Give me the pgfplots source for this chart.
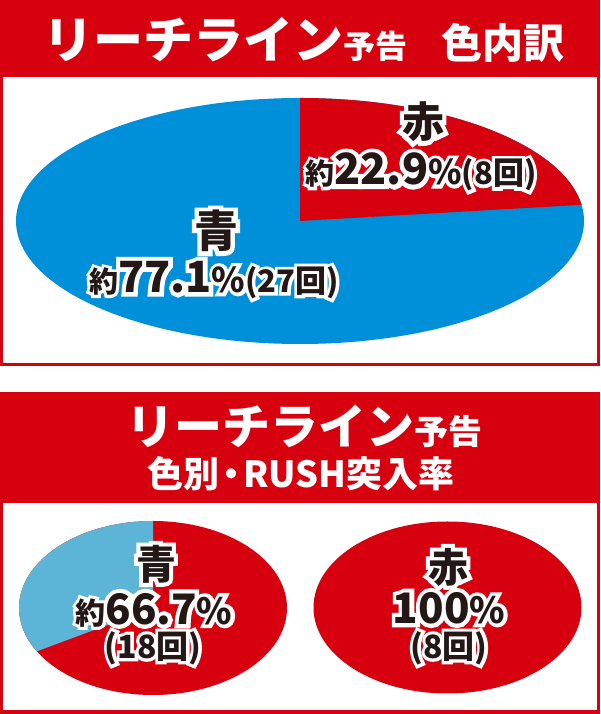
\documentclass[border=0pt]{standalone}
\usepackage{pgfplots}
\pgfplotsset{compat=1.18}
\usepackage{fontspec}
\newfontfamily\jp{Noto Sans CJK JP Black}
\newfontfamily\jpout{Noto Sans CJK JP Black}[FakeBold=20]

\definecolor{jred}{HTML}{D7000F}
\definecolor{jblue}{HTML}{0090D9}
\definecolor{lblue}{HTML}{5CB4D6}
\definecolor{ink}{HTML}{231815}

% shares (percent)
\def\redshare{22.9}   % top: red 8 of 35
\def\blueshare{77.1}  % top: blue 27 of 35
\def\blueRush{66.7}   % bottom left: blue -> RUSH 18 times
\def\redRush{100}     % bottom right: red -> RUSH 8 times

\newcommand\fs[1]{\fontsize{#1}{#1}\selectfont}
% black text with a white rim: a stroked white copy under it
\newcommand\lbl[1]{\rlap{\color{white}\jpout #1}#1}

\pgfplotsset{
  pie/.style={hide axis, scale only axis, clip=false,
    xmin=-1, xmax=1, ymin=-1, ymax=1, anchor=center},
}

\begin{document}
\begin{tikzpicture}[font=\jp]
\begin{scope}[x=1pt, y=1pt]
\fill[white] (0,0) rectangle (600,714);
% top panel frame + title bar
\fill[jred] (0,348) rectangle (600,714);
\fill[white] (3,351) rectangle (597,637);
\node[white, anchor=center] at (304,674)
  {\fs{50}リーチライン\fs{32}予告\hspace{34pt}\fs{41}色内訳};
% bottom panel frame + title bar
\fill[jred] (0,0) rectangle (600,322);
\fill[white] (3,4) rectangle (597,211);
\node[white, anchor=center] at (304,288) {\fs{48}リーチライン\fs{34}予告};
\node[white, anchor=center] at (301,240) {\fs{36}色別\kern-6pt・\kern-6pt RUSH突入率};
\end{scope}

% top pie: 色内訳
\begin{axis}[pie, at={(300pt,493pt)}, width=568pt, height=246pt]
  \fill[jblue] (axis cs:0,0) ellipse[x radius=284pt, y radius=123pt];
  \pgfmathsetmacro\endang{90-3.6*\redshare}
  \fill[jred] (axis cs:0,0) -- (axis cs:0,1)
    arc[start angle=90, end angle=\endang, x radius=284pt, y radius=123pt] -- cycle;
\end{axis}

% bottom left pie: 青 RUSH rate
\begin{axis}[pie, at={(153pt,106pt)}, width=268pt, height=174pt]
  \fill[jred] (axis cs:0,0) ellipse[x radius=134pt, y radius=87pt];
  \pgfmathsetmacro\endang{90+3.6*(100-\blueRush)}
  \fill[lblue] (axis cs:0,0) -- (axis cs:0,1)
    arc[start angle=90, end angle=\endang, x radius=134pt, y radius=87pt] -- cycle;
\end{axis}

% bottom right pie: 赤 RUSH rate
\begin{axis}[pie, at={(447.5pt,106.5pt)}, width=268pt, height=172pt]
  \fill[jred] (axis cs:0,0) ellipse[x radius=134pt, y radius=86pt];
\end{axis}

% labels
\begin{scope}[x=1pt, y=1pt, every node/.style={text=ink, inner sep=0pt, anchor=center}]
\node at (423,592) {\lbl{\fs{42}赤}};
\node at (421,542) {\lbl{\fs{29}約\fs{43}22.9\fs{34}\%\fs{31}(8回)}};
\node at (216,483) {\lbl{\fs{44}青}};
\node at (214,434) {\lbl{\fs{29}約\fs{43}77.1\fs{34}\%\fs{31}(27回)}};

\node at (156,150) {\lbl{\fs{40}青}};
\node at (154,104) {\lbl{\fs{30}約\fs{42}66.7\fs{36}\%}};
\node at (153,66)  {\lbl{\fs{32}(18回)}};

\node at (448,147) {\lbl{\fs{40}赤}};
\node at (449,106) {\lbl{\fs{42}100\fs{36}\%}};
\node at (449,66)  {\lbl{\fs{32}(8回)}};
\end{scope}
\end{tikzpicture}
\end{document}
